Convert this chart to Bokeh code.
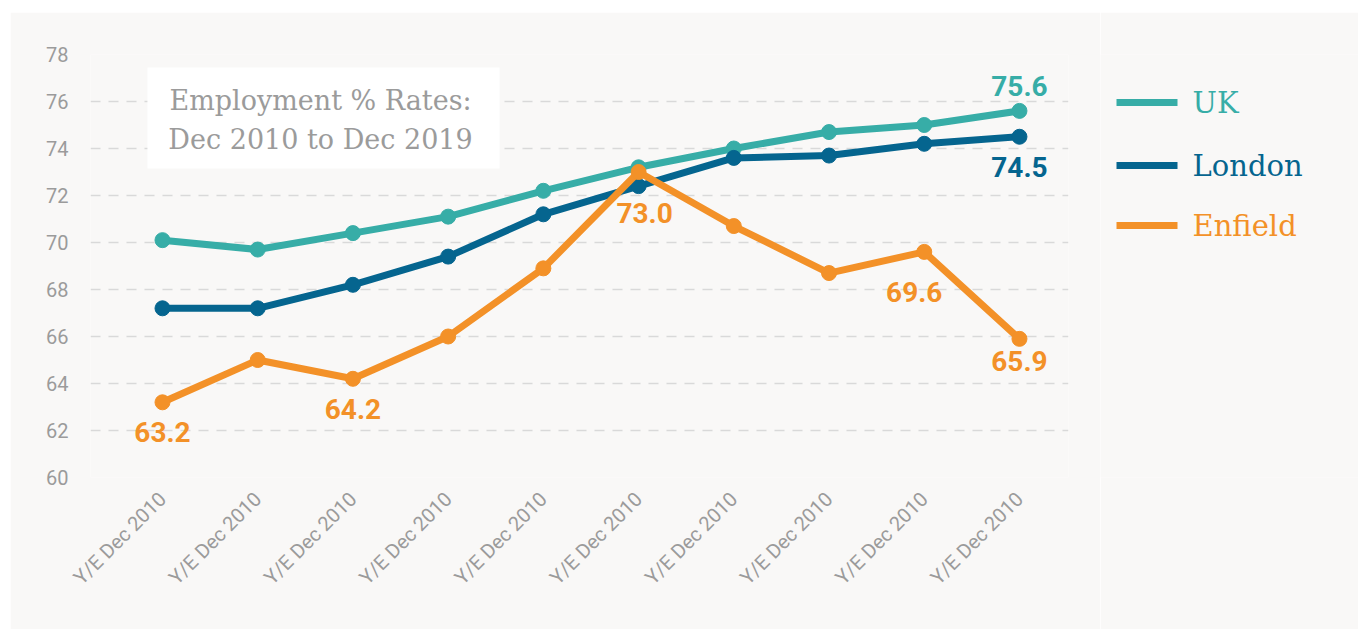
import math
from bokeh.plotting import figure
from bokeh.layouts import row, column
from bokeh.models import (Label, BoxAnnotation, FixedTicker,
                          ColumnDataSource, Range1d, Spacer)
from bokeh.core.properties import value
from bokeh.embed import file_html
from bokeh.resources import INLINE

# ---- data ----
periods = ["Y/E Dec 2010"] * 10
uk = [70.1, 69.7, 70.4, 71.1, 72.2, 73.2, 74.0, 74.7, 75.0, 75.6]
london = [67.2, 67.2, 68.2, 69.4, 71.2, 72.4, 73.6, 73.7, 74.2, 74.5]
enfield = [63.2, 65.0, 64.2, 66.0, 68.9, 73.0, 70.7, 68.7, 69.6, 65.9]
y_ticks = [60, 62, 64, 66, 68, 70, 72, 74, 76, 78]
series_names = ["UK", "London", "Enfield"]
title_lines = ["Employment % Rates:", "Dec 2010 to Dec 2019"]

# which points carry a value label (series, index)
labelled = [("UK", 9), ("London", 9), ("Enfield", 0), ("Enfield", 2),
            ("Enfield", 5), ("Enfield", 8), ("Enfield", 9)]

# ---- styles / layout ----
colors = {"UK": "#37ada7", "London": "#05658f", "Enfield": "#f39128"}
label_offsets = [(0, -25), (0, 30), (0, 30), (0, 30), (6, 41), (-10, 40), (0, 22)]
GREY = "#9b9b9b"
BG = "#f9f8f7"
SANS = "Roboto"
SERIF = "DejaVu Serif"

xs = list(range(len(periods)))
values = {"UK": uk, "London": london, "Enfield": enfield}

p = figure(width=1090, height=617, output_backend="svg", toolbar_location=None,
           x_range=Range1d(-0.756, 9.515), y_range=Range1d(60, 78),
           min_border_left=80, min_border_right=32, min_border_top=42,
           min_border_bottom=152)
p.background_fill_color = BG
p.border_fill_color = BG
p.outline_line_color = None

# axes
p.xaxis.ticker = FixedTicker(ticks=xs)
p.xaxis.major_label_overrides = {i: periods[i] for i in xs}
p.xaxis.major_label_orientation = math.pi / 4
p.yaxis.ticker = FixedTicker(ticks=y_ticks)
for ax in (p.xaxis, p.yaxis):
    ax.axis_line_color = None
    ax.major_tick_line_color = None
    ax.minor_tick_line_color = None
    ax.major_label_text_color = GREY
    ax.major_label_text_font = SANS
p.yaxis.major_label_text_font_size = "20px"
p.yaxis.major_label_standoff = 16
p.xaxis.major_label_text_font_size = "20px"
p.xaxis.major_label_standoff = 12

p.xgrid.grid_line_color = None
p.ygrid.grid_line_color = "#d9d9d9"
p.ygrid.grid_line_width = 1.5
p.ygrid.grid_line_dash = "10 8"

# title box
p.add_layout(BoxAnnotation(left=-0.158, right=3.54, top=77.45, bottom=73.15,
                           fill_color="white", fill_alpha=1.0, line_alpha=0))
for txt, yy in zip(title_lines, [76.04, 74.38]):
    p.add_layout(Label(x=1.66, y=yy, text=txt, text_align="center",
                       text_baseline="middle", text_color=GREY,
                       text_font=SERIF, text_font_size="27px"))

# series
for name in series_names:
    c = colors[name]
    p.line(xs, values[name], line_color=c, line_width=7, line_join="round")
    p.scatter(xs, values[name], size=15, fill_color=c, line_color=c)

# value labels
lx, ly, lt, lc, ox, oy = [], [], [], [], [], []
for (name, i), (dx, dy) in zip(labelled, label_offsets):
    lx.append(xs[i]); ly.append(values[name][i])
    lt.append(f"{values[name][i]:.1f}"); lc.append(colors[name])
    ox.append(dx); oy.append(dy)
src = ColumnDataSource(dict(x=lx, y=ly, text=lt, color=lc, ox=ox, oy=oy))
p.text(x="x", y="y", text="text", source=src, text_color="color",
       x_offset="ox", y_offset="oy", text_align="center", text_baseline="middle",
       text_font=value(SANS), text_font_style="bold", text_font_size="28px")

# legend panel: separate figure whose frame aligns with the main frame;
# ranges are pixel-scaled (y grows downward from the frame top)
lp = figure(width=258, height=617, output_backend="svg", toolbar_location=None,
            x_range=Range1d(0, 258), y_range=Range1d(423, 0),
            x_axis_type=None, y_axis_type=None, min_border=0)
lp.background_fill_color = BG
lp.border_fill_color = BG
lp.outline_line_color = None
lp.grid.visible = False
legend_rows = [48, 111, 171]          # row centres (layout)
swatch_x0, swatch_x1, text_x = 16, 77, 92
lp.segment(x0=[swatch_x0] * 3, x1=[swatch_x1] * 3, y0=legend_rows, y1=legend_rows,
           line_color=[colors[n] for n in series_names], line_width=7)
lp.text(x=[text_x] * 3, y=legend_rows, text=series_names,
        text_color=[colors[n] for n in series_names], text_baseline="middle",
        text_align="left", text_font=value(SERIF), text_font_size="29px")

layout = column(Spacer(height=12),
                row(Spacer(width=10), p, lp, spacing=0), spacing=0)

open("out.html", "w").write(file_html(layout, INLINE))
